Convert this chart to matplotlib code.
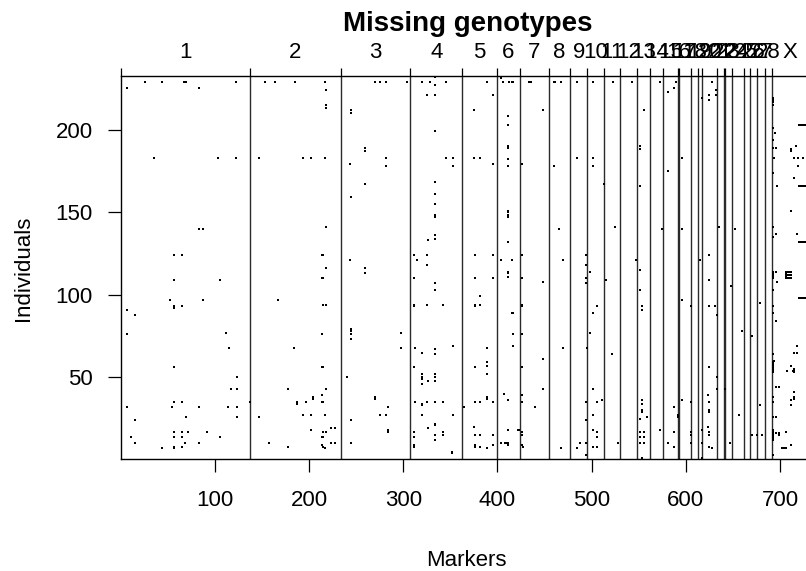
import matplotlib
matplotlib.use('Agg')
import matplotlib.pyplot as plt
import numpy as np

plt.rcParams['font.family'] = ['Liberation Sans', 'DejaVu Sans']

# ---------------- data ----------------
chrom_names = ['1', '2', '3', '4', '5', '6', '7', '8', '9', '10', '11', '12', '13', '14',
               '15', '16', '17', '18', '19', '20', '21', '22', '23', '24', '25', '26', '27',
               '28', 'X']
chrom_n_markers = [137, 96, 74, 55, 37, 24, 31, 23, 18, 18, 17, 18, 13, 14,
                   16, 1, 13, 7, 5, 16, 7, 1, 7, 13, 6, 8, 8, 8, 37]
n_individuals = 232
x_ticks = [100, 200, 300, 400, 500, 600, 700]
y_ticks = [50, 100, 150, 200]

# missing genotype cells: (marker index, individual index)
miss_chr1 = [(7,225),(26,229),(44,229),(67,229),(70,229),(83,225),(123,229),(35,183),(103,183),
             (123,183),(83,140),(87,140),(57,124),(65,124),(1,109),(57,109),(106,109),(53,97),
             (57,93),(57,92),(65,93),(87,97),(7,91),(15,88),(7,76),(112,77),(115,68),(57,56),
             (124,50),(117,43),(124,43),(7,32),(55,32),(57,35),(65,35),(83,32),(114,32),(124,32),
             (137,35),(15,24),(70,26),(124,26),(11,14),(15,10),(44,7),(57,17),(57,14),(57,8),
             (57,7),(65,17),(65,14),(65,8),(68,10),(72,17),(83,10),(92,17),(106,14)]
miss_chr2 = [(153,229),(164,229),(147,183),(167,97),(147,26),(158,10),(178,8),(178,43),
             (185,229),(217,229),(218,224),(218,215),(218,213),(194,183),(202,183),(217,183),
             (218,141),(214,124),(215,124),(218,116),(214,110),(215,110),(215,94),(218,94),
             (214,76),(184,68),(214,56),(215,56),(218,43),(204,38),(204,37),(214,39),(187,35),
             (187,34),(197,35),(214,35),(215,35),(194,27),(202,27),(217,27),(202,18),(223,19),
             (228,19),(215,17),(218,17),(214,14),(215,14),(223,10),(228,10),(214,9),(215,8),(217,7)]
miss_chr3 = [(270,229),(275,229),(282,229),(304,229),(245,212),(245,210),(259,189),(259,187),
             (282,183),(243,179),(282,178),(259,167),(245,159),(243,121),(259,116),(259,113),
             (245,79),(245,78),(245,76),(245,73),(298,77),(298,68),(240,50),(270,38),(270,37),
             (284,32),(275,27),(282,27),(245,24),(284,18),(284,17),(245,10)]
miss_chr4 = [(320,229),(328,229),(334,232),(334,227),(325,221),(334,221),(334,199),(334,168),
             (334,161),(334,155),(334,148),(334,147),(334,136),(334,134),(326,133),(311,124),
             (315,121),(325,124),(325,118),(311,110),(334,107),(334,103),(311,94),(311,93),
             (325,94),(312,68),(320,65),(334,67),(334,64),(311,56),(320,52),(320,50),(320,49),
             (320,46),(326,48),(334,52),(334,50),(334,48),(312,35),(320,34),(320,33),(325,35),
             (334,35),(320,27),(334,22),(334,21),(326,19),(311,17),(311,14),(334,15),(334,12),
             (311,9),(311,8),(345,229),(345,183),(353,183),(353,178),(342,94),(353,69),(342,35),
             (353,27),(342,17),(342,15),(352,5),(352,4)]
miss_chr5_8 = [(389,229),(395,221),(375,212),(375,183),(381,183),(395,179),(376,124),(395,124),
               (376,110),(395,110),(381,99),(376,94),(376,93),(382,94),(389,68),(389,59),(389,57),
               (376,56),(389,52),(389,38),(389,37),(395,35),(376,35),(382,35),(364,32),(375,20),
               (376,15),(382,15),(395,15),(376,9),(376,8),(382,8),(389,7),(395,9),
               (404,231),(406,229),(412,229),(415,229),(416,229),(411,208),(411,203),(411,190),
               (411,189),(411,182),(411,178),(411,151),(411,150),(411,148),(411,147),(411,132),
               (404,121),(415,121),(411,114),(411,113),(411,111),(415,89),(417,89),(416,76),
               (416,69),(407,40),(411,36),(411,18),(422,18),(423,18),(404,10),(408,10),(410,10),
               (411,10),(411,9),
               (434,229),(436,229),(448,212),(426,179),(426,124),(426,110),(448,108),(426,94),
               (426,93),(426,76),(448,61),(426,56),(448,43),(426,39),(426,35),(440,32),(426,17),
               (426,15),(426,9),(427,8),
               (460,229),(461,229),(467,229),(460,178),(465,140),(470,121),(470,68),(467,7)]
miss_chr9_14 = [(484,229),(484,183),(494,124),(494,118),(494,110),(494,107),(495,68),(494,35),
                (494,24),(488,10),(494,10),(484,7),(494,3),
                (498,114),(498,77),(501,229),(501,183),(501,178),(513,167),(506,93),(501,89),
                (501,43),(511,36),(506,35),(501,27),(501,18),(506,17),(506,14),(501,8),(506,8),
                (523,229),(525,141),(515,109),(522,64),(528,10),(543,229),(547,121),
                (556,212),(551,190),(551,188),(551,166),(551,115),(551,103),(553,93),(553,91),
                (553,36),(553,34),(553,30),(553,29),(551,25),(559,26),(551,17),(556,17),(551,14),
                (556,14),(551,10),(556,10),(553,1),(573,229),(575,140),(573,18)]
miss_chr15_28 = [(590,229),(581,223),(587,225),(581,175),(587,32),(581,10),(587,17),(587,8),
                 (592,27),(592,26),
                 (596,183),(596,140),(596,97),(605,93),(596,36),(605,35),(605,17),(605,15),(605,10),
                 (617,219),(615,121),(617,18),(617,10),(617,1),
                 (628,229),(625,221),(625,218),(632,224),(632,221),(625,124),(625,109),(625,93),
                 (631,93),(633,88),(625,56),(633,50),(633,43),(623,39),(625,35),(625,30),(625,29),
                 (623,20),(625,17),(625,15),(625,8),(628,7),
                 (635,141),(642,43),(648,105),(647,10),(652,140),(659,78),(656,27),
                 (670,75),(670,15),(675,15),(679,95),(679,33),(681,15)]
miss_chrX = [(692,218),(692,215),(692,217),(692,219),(692,201),(692,194),(692,189),(692,174),
             (692,141),(692,135),(692,114),(692,113),(692,112),(692,111),(692,110),(692,103),
             (692,93),(692,89),(692,64),(692,59),(692,58),(692,57),(692,56),(692,55),(692,54),
             (692,53),(692,38),(692,35),(692,26),(692,18),(692,17),(692,16),(692,15),(692,14),
             (692,13),(692,12),(692,3),
             (695,198),(696,189),(712,188),(711,187),(717,190),(694,183),(715,183),(719,183),
             (724,183),(719,178),(715,171),(697,166),
             (720,203),(721,203),(722,203),(723,203),(724,203),(725,203),(726,203),(727,203),(728,203),
             (720,166),(721,166),(722,166),(723,166),(724,166),(725,166),(726,166),(727,166),(728,166),
             (711,151),(696,137),(718,137),
             (720,132),(721,132),(722,132),(723,132),(724,132),(725,132),(726,132),(727,132),(728,132),
             (696,114),(697,108),
             (706,114),(707,114),(708,114),(709,114),(710,114),(711,114),(712,114),
             (706,113),(706,112),(707,112),(708,112),(709,112),(710,112),(711,112),(712,112),
             (706,111),(706,110),(707,110),(708,110),(709,110),(710,110),(711,110),(712,110),
             (720,98),(721,98),(722,98),(723,98),(724,98),(725,98),(726,98),(727,98),(728,98),
             (696,84),(718,69),(715,65),(718,65),(694,60),(707,54),(711,57),(714,54),(715,53),
             (715,54),(715,55),(696,44),(699,44),(715,41),(715,38),(715,37),(711,36),(711,33),
             (696,26),(696,16),(699,16),(699,15),(706,17),(711,9),
             (702,7),(703,7),(704,7),(705,7),(706,7)]

# ---------------- figure ----------------
W, H = 806, 571
fig = plt.figure(figsize=(W / 100, H / 100), dpi=100)
ax_left, ax_right, ax_top, ax_bottom = 121, 807, 76, 459
ax = fig.add_axes([ax_left / W, 1 - ax_bottom / H, (ax_right - ax_left) / W, (ax_bottom - ax_top) / H])

n_total = sum(chrom_n_markers)
ax.set_xlim(0.5, n_total + 0.5)
ax.set_ylim(0.5, n_individuals + 0.5)

all_miss = miss_chr1 + miss_chr2 + miss_chr3 + miss_chr4 + miss_chr5_8 + miss_chr9_14 + miss_chr15_28 + miss_chrX
mm = np.array([p[0] for p in all_miss])
ii = np.array([p[1] for p in all_miss])
ax.scatter(mm, ii, marker='s', s=3.0, c='black', linewidths=0, zorder=3)

ends = np.cumsum(chrom_n_markers)
boundaries = np.concatenate([[0], ends]) + 0.5
centers = (np.concatenate([[0], ends[:-1]]) + ends) / 2 + 0.5
for b in boundaries[1:-1]:
    ax.axvline(b, color='#2a2a2a', lw=1.0, zorder=2)

for s in ax.spines.values():
    s.set_linewidth(1.0)

ax.set_xticks(x_ticks)
ax.set_yticks(y_ticks)
ax.tick_params(axis='x', length=9.4, width=0.9, labelsize=16, pad=13)
ax.tick_params(axis='y', length=9.4, width=0.9, labelsize=16, pad=11)

ax2 = ax.twiny()
ax2.set_xlim(ax.get_xlim())
ax2.set_xticks(boundaries)
ax2.set_xticklabels([''] * len(boundaries))
ax2.set_xticks(centers, minor=True)
ax2.set_xticklabels(chrom_names, minor=True)
ax2.tick_params(axis='x', which='major', length=5.8, width=0.9, direction='out')
ax2.tick_params(axis='x', which='minor', length=0, labelsize=16, pad=9.6)
for s in ax2.spines.values():
    s.set_visible(False)

fig.text(468 / W, 1 - 31 / H, 'Missing genotypes', ha='center', va='baseline',
         fontsize=20, fontweight='bold')
fig.text(466 / W, 1 - 566 / H, 'Markers', ha='center', va='baseline', fontsize=16)
fig.text(24 / W, 1 - 268 / H, 'Individuals', ha='center', va='center', rotation=90, fontsize=16)

fig.savefig('out.png', dpi=100)
